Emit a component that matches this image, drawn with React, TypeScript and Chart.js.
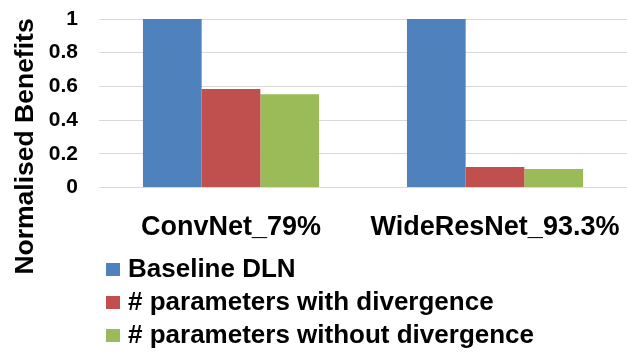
import React, { useEffect, useRef } from "react";
import { Chart, registerables } from "chart.js";

Chart.register(...registerables);

const categories: string[] = ["ConvNet_79%", "WideResNet_93.3%"];
const seriesNames: string[] = [
  "Baseline DLN",
  "# parameters with divergence",
  "# parameters without divergence",
];
const baselineValues: number[] = [1, 1];
const withDivergenceValues: number[] = [0.585, 0.122];
const withoutDivergenceValues: number[] = [0.553, 0.11];
const seriesColors: string[] = ["#4F81BD", "#C0504D", "#9BBB59"];
const yAxisTitle = "Normalised Benefits";
const yMin = 0;
const yMax = 1;
const yStep = 0.2;

const FONT = "'Liberation Sans', Arial, sans-serif";

const customDecor = {
  id: "customDecor",
  afterDraw(chart: any) {
    const ctx = chart.ctx as CanvasRenderingContext2D;
    ctx.save();
    // Y axis title
    ctx.fillStyle = "#000";
    ctx.font = `bold 26.5px ${FONT}`;
    ctx.translate(33, 146.5);
    ctx.rotate(-Math.PI / 2);
    ctx.textAlign = "center";
    ctx.textBaseline = "alphabetic";
    ctx.fillText(yAxisTitle, 0, 0);
    ctx.restore();

    // Legend
    ctx.save();
    ctx.font = `bold 26px ${FONT}`;
    ctx.textAlign = "left";
    ctx.textBaseline = "alphabetic";
    chart.data.datasets.forEach((ds: any, i: number) => {
      const baseY = 276.5 + i * 33;
      ctx.fillStyle = ds.backgroundColor;
      ctx.fillRect(106, baseY - 13.5, 14, 13);
      ctx.fillStyle = "#000";
      ctx.fillText(ds.label, 128, baseY);
    });
    ctx.restore();
  },
};

export default function App() {
  const canvasRef = useRef<HTMLCanvasElement | null>(null);

  useEffect(() => {
    if (!canvasRef.current) return;
    const chart = new Chart(canvasRef.current, {
      type: "bar",
      data: {
        labels: categories,
        datasets: [
          { label: seriesNames[0], data: baselineValues, backgroundColor: seriesColors[0] },
          { label: seriesNames[1], data: withDivergenceValues, backgroundColor: seriesColors[1] },
          { label: seriesNames[2], data: withoutDivergenceValues, backgroundColor: seriesColors[2] },
        ],
      },
      options: {
        responsive: false,
        animation: false,
        layout: { padding: { top: 19, left: 0, right: 0, bottom: 0 } },
        datasets: {
          bar: {
            categoryPercentage: 0.667,
            barPercentage: 1,
            borderWidth: 0,
          },
        },
        plugins: {
          legend: { display: false },
          tooltip: { enabled: false },
          title: { display: false },
        },
        scales: {
          x: {
            grid: { display: false },
            border: { display: false },
            ticks: {
              color: "#000",
              font: { family: FONT, size: 27, weight: "bold" },
              padding: 16,
              maxRotation: 0,
              autoSkip: false,
            },
            afterFit: (scale: any) => {
              scale.height = 164.5;
              scale.paddingLeft = 0;
              scale.paddingRight = 0;
            },
          },
          y: {
            min: yMin,
            max: yMax,
            grid: { color: "#D9D9D9", lineWidth: 1, drawTicks: false },
            border: { display: false },
            ticks: {
              stepSize: yStep,
              color: "#000",
              font: { family: FONT, size: 21, weight: "bold" },
              padding: 21,
              callback: (v: any) => String(Math.round(Number(v) * 10) / 10),
            },
            afterFit: (scale: any) => {
              scale.width = 99;
              scale.paddingTop = 0;
              scale.paddingBottom = 0;
            },
          },
        },
      },
      plugins: [customDecor],
    });
    return () => chart.destroy();
  }, []);

  return (
    <div style={{ position: "absolute", left: 0, top: 0, width: 627, height: 352, background: "#fff" }}>
      <canvas ref={canvasRef} width={627} height={352} style={{ display: "block" }} />
    </div>
  );
}
